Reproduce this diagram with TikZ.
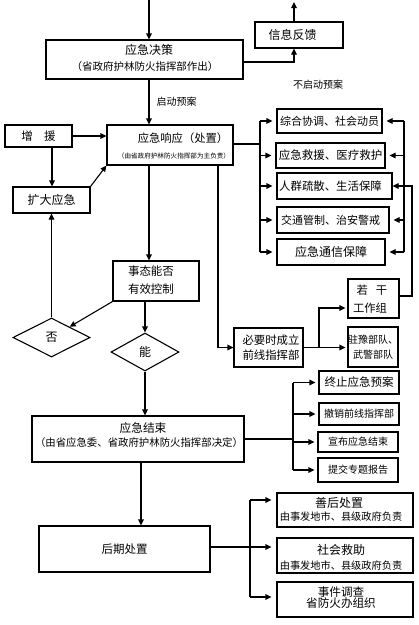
\documentclass[tikz,border=0pt]{standalone}
\usepackage{fontspec}
\setmainfont{Noto Sans CJK SC}
\usetikzlibrary{arrows.meta,shapes.geometric}
\newcommand\fsz[1]{\fontsize{#1}{#1}\selectfont}
\begin{document}
\begin{tikzpicture}[x=1pt,y=-1pt,
  boxs/.style={draw,line width=1.1pt,inner sep=0pt,align=center},
  tx/.style={inner sep=0pt,align=center},
  dia/.style={draw,diamond,line width=1.1pt,inner sep=0pt,aspect=2},
  ln/.style={line width=1.1pt},
  arr/.style={line width=1.1pt,-{Triangle[length=6pt,width=5.5pt]}}]
\fill[white] (0,0) rectangle (419,625);
\useasboundingbox (0,0) rectangle (419,625);

% top part
\coordinate (top) at (149,0);
\coordinate (xtop) at (294,2);
\node[boxs,minimum width=197pt,minimum height=39pt] (jc) at (144.5,59.5) {};
\node[tx,font=\fsz{12}] (jcA) at (149,50) {应急决策};
\node[tx,font=\fsz{10.5}] (jcB) at (145,67) {（省政府护林防火指挥部作出）};
\node[boxs,minimum width=88pt,minimum height=26pt] (xx) at (299,35) {};
\node[tx,font=\fsz{12}] (xxT) at (292.5,35) {信息反馈};
\node[tx,font=\fsz{10}] (bq) at (318,85) {不启动预案};
\node[tx,font=\fsz{10}] (qd) at (176.5,102) {启动预案};

% response
\node[boxs,minimum width=126pt,minimum height=40pt] (xy) at (170,145) {};
\node[tx,font=\fsz{11.3}] (xyA) at (183,138) {应急响应（处置）};
\node[tx,font=\fsz{6.6}] (xyB) at (174,156) {（由省政府护林防火指挥部为主负责）};
\node[boxs,minimum width=67pt,minimum height=22pt,font=\fsz{11.5}] (zy) at (38.5,136) {增\hspace{1em}援};
\node[boxs,minimum width=77pt,minimum height=26pt,font=\fsz{12}] (kd) at (51.5,200) {扩大应急};

% control
\node[boxs,minimum width=86pt,minimum height=40pt] (st) at (156,281) {};
\node[tx,font=\fontsize{11.5}{18}\selectfont] (stT) at (151,280) {事态能否\\有效控制};
\node[dia,minimum width=77pt,minimum height=39pt,font=\fsz{12}] (fou) at (51.5,337.5) {否};
\node[dia,minimum width=68pt,minimum height=38pt,font=\fsz{12}] (neng) at (145,352) {能};

% end
\node[boxs,minimum width=212pt,minimum height=46pt] (js) at (138,439) {};
\node[tx,font=\fsz{11.7}] (jsA) at (143,428) {应急结束};
\node[tx,font=\fsz{10.4}] (jsB) at (139,443) {（由省应急委、省政府护林防火指挥部决定）};
\node[boxs,minimum width=171pt,minimum height=46pt,font=\fsz{11.5}] (hq) at (124.5,549) {后期处置};

% right group 1
\node[boxs,minimum width=105pt,minimum height=24pt,font=\fsz{11}] (r1) at (329.5,121) {综合协调、社会动员};
\node[boxs,minimum width=109pt,minimum height=25pt,font=\fsz{11.5}] (r2) at (330.5,155.5) {应急救援、医疗救护};
\node[boxs,minimum width=115pt,minimum height=26pt] (r3) at (334.5,186) {};
\node[tx,font=\fsz{11.4}] (r3T) at (330.5,186) {人群疏散、生活保障};
\node[boxs,minimum width=112pt,minimum height=26pt] (r4) at (333,220) {};
\node[tx,font=\fsz{11}] (r4T) at (330.5,220) {交通管制、治安警戒};
\node[boxs,minimum width=108pt,minimum height=26pt,font=\fsz{12}] (r5) at (331,252) {应急通信保障};

% front line
\node[boxs,minimum width=51pt,minimum height=39pt] (ruo) at (373.5,298.5) {};
\node[tx,font=\fsz{11.3}] (ruoA) at (372,290) {若\hspace{0.7em}干};
\node[tx,font=\fsz{11.3}] (ruoB) at (370,308) {工作组};
\node[boxs,minimum width=50pt,minimum height=40pt,font=\fontsize{10}{15}\selectfont] (zhu) at (373,347) {驻豫部队、\\武警部队};
\node[boxs,minimum width=69pt,minimum height=39pt] (qx) at (268.5,347.5) {};
\node[tx,font=\fontsize{11.4}{15}\selectfont] (qxT) at (271,347.5) {必要时成立\\前线指挥部};

% end group
\node[boxs,minimum width=80pt,minimum height=23pt,font=\fsz{11.5}] (e1) at (359,382.5) {终止应急预案};
\node[boxs,minimum width=80pt,minimum height=22pt,font=\fsz{10}] (e2) at (359,414) {撤销前线指挥部};
\node[boxs,minimum width=80pt,minimum height=20pt,font=\fsz{10}] (e3) at (358,442) {宣布应急结束};
\node[boxs,minimum width=80pt,minimum height=24pt,font=\fsz{10}] (e4) at (358,470) {提交专题报告};

% aftermath group
\node[boxs,minimum width=136pt,minimum height=34pt] (s1) at (345,510) {};
\node[tx,font=\fsz{12}] (s1A) at (339,503) {善后处置};
\node[tx,font=\fsz{10.2}] (s1B) at (341,517) {由事发地市、县级政府负责};
\node[boxs,minimum width=136pt,minimum height=35pt] (s2) at (345,555.5) {};
\node[tx,font=\fsz{12}] (s2A) at (341,550) {社会救助};
\node[tx,font=\fsz{10.2}] (s2B) at (341,566) {由事发地市、县级政府负责};
\node[boxs,minimum width=136pt,minimum height=35pt] (s3) at (345,599.5) {};
\node[tx,font=\fontsize{11.6}{11.5}\selectfont] (s3T) at (341,597.5) {事件调查\\省防火办组织};

% trunk coordinates
\coordinate (rt) at (260,144);
\coordinate (rt2) at (404,150);
\coordinate (rt3) at (412,150);
\coordinate (et) at (293,439);
\coordinate (bt) at (319,347.5);
\coordinate (sa) at (250,500);
\coordinate (sb) at (250,547);
\coordinate (sc) at (250,597);

% connectors
\draw[arr] (top) -- (top |- jc.north);
\draw[arr] ([yshift=-2.5pt]jc.east) -| ([xshift=-5pt]xx.south);
\draw[arr] ([xshift=-5pt]xx.north) -- (xtop);
\draw[arr] (top |- jc.south) -- (top |- xy.north);
\draw[arr] (zy.east) -- (zy.east -| xy.west);
\draw[arr] ([xshift=13.5pt]zy.south) -- ([xshift=13.5pt]zy.south |- kd.north);
\draw[arr] (kd.north east) -- (xy.south west);
\draw[arr] (fou.north) -- (kd.south);
\draw[arr] (top |- xy.south) -- (top |- st.north);
\draw[arr] ([xshift=48pt]xy.south) |- (qx.west);
\draw[arr] (st.south west) -- (fou);
\draw[arr] (neng.north |- st.south) -- (neng.north);
\draw[arr] (neng.south) -- (neng.south |- js.north);

\draw[ln] ([yshift=1pt]xy.east) -- (rt);
\draw[ln] (rt |- r1.west) -- (rt |- r5.west);
\foreach \n in {r1,r2,r3,r4,r5} \draw[arr] (rt |- \n.west) -- ([xshift=-4pt]\n.west);
\draw[ln] (rt2 |- r1.east) -- (rt2 |- r5.east);
\foreach \n in {r1,r2,r4,r5} \draw[arr] (rt2 |- \n.east) -- ([xshift=4pt]\n.east);
\draw[arr] ([yshift=2.5pt]ruo.east) -| (rt3 |- r3.east) -- (r3.east);

\draw[ln] (qx.east) -- (bt);
\draw[arr] (bt) |- ([xshift=-2pt,yshift=-9.5pt]ruo.west);
\draw[arr] (bt) -- ([xshift=-2pt]bt -| zhu.west);

\draw[ln] (js.east) -- (et);
\draw[ln] (et |- e1.west) -- (et |- e4.west);
\foreach \n in {e1,e2,e3,e4} \draw[arr] (et |- \n.west) -- ([xshift=-3pt]\n.west);
\draw[arr] ([xshift=3pt]js.south) -- ([xshift=3pt]js.south |- hq.north);

\draw[ln] (sb -| hq.east) -- (sb);
\draw[ln] (sa) -- (sc);
\draw[arr] (sa) -- ([xshift=-5pt]sa -| s1.west);
\draw[arr] (sb) -- ([xshift=-5pt]sb -| s2.west);
\draw[arr] (sc) -- ([xshift=-5pt]sc -| s3.west);
\end{tikzpicture}
\end{document}
